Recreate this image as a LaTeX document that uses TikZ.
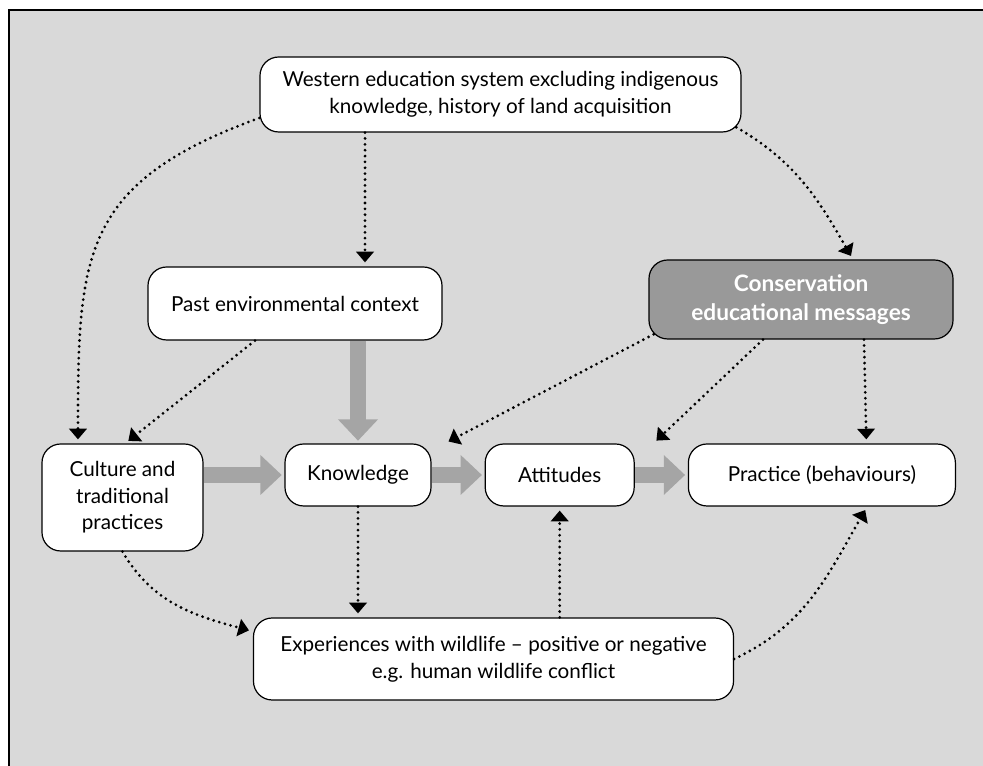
\documentclass[tikz,border=0pt]{standalone}
\usepackage{fontspec}
\setmainfont{Lato}
\usetikzlibrary{arrows.meta,positioning}
\definecolor{FrameGray}{RGB}{217,217,217}
\definecolor{MsgGray}{RGB}{153,153,153}
\definecolor{FlowGray}{RGB}{165,165,165}

\begin{document}
\begin{tikzpicture}[x=0.75pt,y=0.75pt,
  box/.style={draw=black,fill=white,rounded corners=14pt,line width=0.9pt,
              align=center,inner sep=0pt,font=\fontsize{15.5}{20}\selectfont},
  dotarr/.style={line width=2.3pt,line cap=round,dash pattern=on 0pt off 4.4pt,
                 -{Triangle[width=13pt,length=8pt]},shorten >=3pt},
  flow/.style={FlowGray,line width=12pt,
               -{Triangle[width=29pt,length=16pt]},shorten >=2pt},
  node distance=39.75pt,
]
\useasboundingbox (0,0) rectangle (983,766);
\fill[white] (0,0) rectangle (983,766);
\fill[FrameGray] (9,0) rectangle (983,756);
\draw[line width=1.5pt] (9,0) -- (9,756) -- (983,756);

\node[box,minimum width=360.75pt,minimum height=56.25pt] (west) at (500.5,671.5)
  {Western education system excluding indigenous\\knowledge, history of land acquisition};
\node[box,minimum width=220.5pt,minimum height=54.75pt] (past) at (295,462.5)
  {Past environmental context};
\node[box,fill=MsgGray,text=white,font=\fontsize{17}{21.5}\selectfont\bfseries,
      minimum width=228pt,minimum height=59.25pt] (cons) at (801,466.5)
  {Conservation\\educational messages};
\node[box,minimum width=120.75pt,minimum height=80.25pt] (cult) at (122.5,268.5)
  {Culture and\\traditional\\practices};
\node[box,minimum width=109.5pt,minimum height=46.5pt] (know) at (358,291) {Knowledge};
\node[box,minimum width=111.75pt,minimum height=46.5pt,right=of know] (att) {Attitudes};
\node[box,minimum width=200.25pt,minimum height=46.5pt,right=of att] (prac) {Practice (behaviours)};
\node[box,minimum width=360pt,minimum height=61.5pt] (exp) at (493.5,107)
  {Experiences with wildlife -- positive or negative\\e.g. human wildlife conflict};

% main flow
\draw[flow] (cult.east |- know.west) -- (know.west);
\draw[flow] (past.south -| know.north) -- (know.north);
\draw[flow] (know.east) -- (att.west);
\draw[flow] (att.east) -- (prac.west);

% influences
\draw[dotarr] ([xshift=-101.6pt]west.south) -- ([xshift=52.5pt]past.north);
\draw[dotarr] ([yshift=-17.6pt]west.west) to[out=200,in=90,looseness=1.3] ([xshift=-33.4pt]cult.north);
\draw[dotarr] ([shift={(-4pt,4pt)}]west.south east) to[out=-30,in=120] ([xshift=39pt]cons.north);
\draw[dotarr] ([xshift=-30pt]past.south) -- ([xshift=2pt]cult.north);
\draw[dotarr] ([shift={(4pt,4pt)}]cons.south west) -- ([xshift=10pt]know.north east);
\draw[dotarr] ([xshift=-28.5pt]cons.south) -- ([xshift=14pt]att.north east);
\draw[dotarr] ([xshift=47.25pt]cons.south) -- ([xshift=33.4pt]prac.north);
\draw[dotarr] (know.south) -- (know.south |- exp.north);
\draw[dotarr] (exp.north -| att.south) -- (att.south);
\draw[dotarr] (cult.south) to[out=-60,in=165] ([yshift=-10.5pt]exp.north west);
\draw[dotarr] (exp.east) to[out=25,in=-120] ([xshift=34pt]prac.south);
\end{tikzpicture}
\end{document}
